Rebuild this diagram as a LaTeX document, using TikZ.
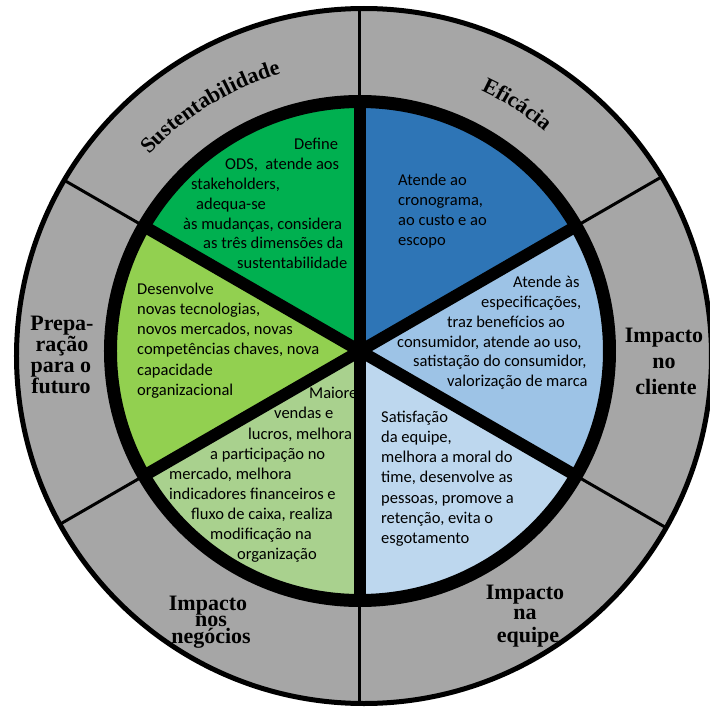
\documentclass[tikz,border=0pt]{standalone}
\usepackage{fontspec}
\setmainfont{Carlito}
\newfontfamily\headfont{Liberation Serif}
\usetikzlibrary{decorations.text}

\definecolor{ringgray}{HTML}{A6A6A6}
\definecolor{effblue}{HTML}{2E75B6}
\definecolor{custblue}{HTML}{9DC3E6}
\definecolor{teamblue}{HTML}{BDD7EE}
\definecolor{bizgreen}{HTML}{A9D18E}
\definecolor{futgreen}{HTML}{92D050}
\definecolor{susgreen}{HTML}{00B050}

\begin{document}
\begin{tikzpicture}[x=1pt,y=1pt,
  body/.style={anchor=base west, inner sep=0pt, text=black,
    font=\fontsize{16.5}{20}\selectfont},
  head/.style={anchor=base, inner sep=0pt, text=black,
    font=\headfont\bfseries\fontsize{22}{22}\selectfont},
  ringline/.style={line width=3pt},
  spoke/.style={line width=12pt},
  curved/.style={decorate, decoration={text along path, text align=center,
    text={|\headfont\bfseries\fontsize{22}{22}\selectfont|#1}}}]
\useasboundingbox (-360,-362) rectangle (350,351);
\coordinate (C) at (0,0);
\coordinate (O) at (4,-5);

% outer grey ring with its six thin dividers
\fill[ringgray] (O) circle[radius=347.5];
\begin{scope}
  \clip (O) circle[radius=347.5];
  \foreach \a in {90,30,...,-210} \draw[ringline] (C) -- (\a:370);
\end{scope}
\draw[line width=5pt] (O) circle[radius=347.5];

% six coloured sectors of the inner wheel
\foreach \a/\col in {30/effblue, -30/custblue, -90/teamblue, -150/bizgreen, 150/futgreen, 90/susgreen}
  \fill[\col] (C) -- (\a:250) arc[start angle=\a, end angle=\a+60, radius=250] -- cycle;
\draw[line width=13pt] (C) circle[radius=249.5];
\foreach \a in {90,30,...,-210} \draw[spoke] (C) -- (\a:250);

% curved ring titles
\path[curved=Sustentabilidade] (141.5:288) arc[start angle=141.5, end angle=101.5, radius=288];
\path[curved=Eficácia] (77.5:287) arc[start angle=77.5, end angle=37.5, radius=287];

\begin{scope}[shift={(-360pt,351pt)}, y=-1pt]
  % Sustentabilidade sector
  \node[body] (s1) at (294,149) {Define};
  \node[body] (s2) at (225,169) {ODS,~ atende aos};
  \node[body] (s3) at (191,189) {stakeholders,};
  \node[body] (s4) at (196,209) {adequa-se};
  \node[body] (s5) at (183,229) {às mudanças, considera};
  \node[body] (s6) at (203,248.5) {as três dimensões da};
  \node[body] (s7) at (237,268) {sustentabilidade};

  % Eficácia sector
  \node[body] (e1) at (398,185) {Atende ao};
  \node[body] (e2) at (398,205) {cronograma,};
  \node[body] (e3) at (398,225) {ao custo e ao};
  \node[body] (e4) at (398,245) {escopo};

  % Impacto no cliente sector
  \node[body] (c1) at (513,287.5) {Atende às};
  \node[body] (c2) at (481,307) {especificações,};
  \node[body] (c3) at (447,327) {traz benefícios ao};
  \node[body] (c4) at (397,347) {consumidor, atende ao uso,};
  \node[body] (c5) at (413,366.5) {satistação do consumidor,};
  \node[body] (c6) at (447,386.5) {valorização de marca};

  % Impacto na equipe sector
  \node[body] (t1) at (381,422) {Satisfação};
  \node[body] (t2) at (381,442) {da equipe,};
  \node[body] (t3) at (381,462.5) {melhora a moral do};
  \node[body] (t4) at (381,482.5) {time, desenvolve as};
  \node[body] (t5) at (381,503) {pessoas, promove a};
  \node[body] (t6) at (381,523) {retenção, evita o};
  \node[body] (t7) at (381,543) {esgotamento};

  % Impacto nos negócios sector
  \node[body] (b1) at (309,398) {Maiore};
  \node[body] (b2) at (274,418) {vendas e};
  \node[body] (b3) at (248,439) {lucros, melhora};
  \node[body] (b4) at (210,459) {a participação no};
  \node[body] (b5) at (169,479) {mercado, melhora};
  \node[body] (b6) at (169,499) {indicadores financeiros e};
  \node[body] (b7) at (191,519) {fluxo de caixa, realiza};
  \node[body] (b8) at (210,539) {modificação na};
  \node[body] (b9) at (237,559) {organização};

  % Preparação para o futuro sector
  \node[body] (f1) at (137,294) {Desenvolve};
  \node[body] (f2) at (137,314) {novas tecnologias,};
  \node[body] (f3) at (137,334.5) {novos mercados, novas};
  \node[body] (f4) at (137,354.5) {competências chaves, nova};
  \node[body] (f5) at (137,375) {capacidade};
  \node[body] (f6) at (137,395) {organizacional};

  % ring titles set straight
  \node[head] (pf1) at (62,330) {Prepa-};
  \node[head] (pf2) at (62,351) {ração};
  \node[head] (pf3) at (61,372) {para o};
  \node[head] (pf4) at (61,393) {futuro};

  \node[head] (ic1) at (664,342) {Impacto};
  \node[head] (ic2) at (664,368) {no};
  \node[head] (ic3) at (666,394) {cliente};

  \node[head] (in1) at (208,610) {Impacto};
  \node[head] (in2) at (211,626.5) {nos};
  \node[head] (in3) at (211,643) {negócios};

  \node[head] (ie1) at (525,599) {Impacto};
  \node[head] (ie2) at (525,619.5) {na};
  \node[head] (ie3) at (528,642) {equipe};
\end{scope}
\end{tikzpicture}
\end{document}
